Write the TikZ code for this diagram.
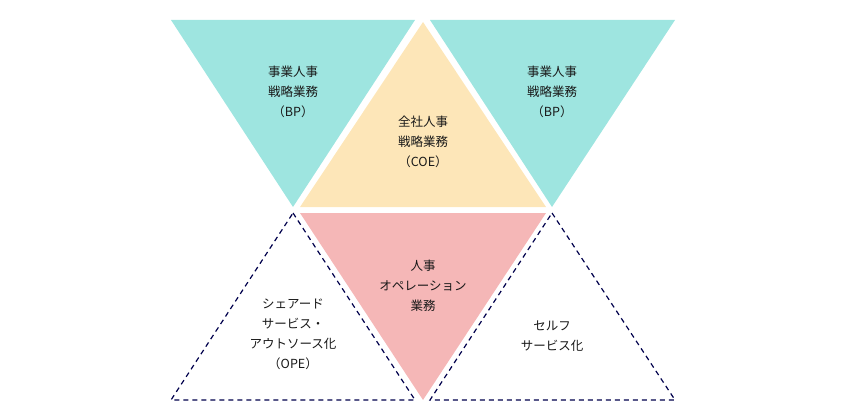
\documentclass[tikz,border=0pt]{standalone}
\usepackage{fontspec}
\setmainfont{Noto Sans CJK JP}
\begin{document}
\begin{tikzpicture}[x=1pt,y=-1pt,
  lbl/.style={align=center,font=\fontsize{12.5}{20}\selectfont,text=black!90},
  dsh/.style={draw=blue!30!black,dash pattern=on 5pt off 4pt,line width=1.2pt}]
\useasboundingbox (0,0) rectangle (846,420);
\definecolor{tealc}{HTML}{9EE5E0}
\definecolor{yelc}{HTML}{FDE6B8}
\definecolor{pinkc}{HTML}{F5B7B7}
\fill[tealc] (171,20) -- (415,20) -- (293,207) -- cycle;
\fill[tealc] (430,20) -- (675,20) -- (552,207) -- cycle;
\fill[yelc] (423,22) -- (546,207) -- (300,207) -- cycle;
\fill[pinkc] (300,213) -- (546,213) -- (423,400) -- cycle;
\draw[dsh] (293,213) -- (415,400) -- (171,400) -- cycle;
\draw[dsh] (552,213) -- (675,400) -- (430,400) -- cycle;
\node[lbl] (a) at (293,92) {事業人事\\戦略業務\\（BP）};
\node[lbl] (b) at (552,92) {事業人事\\戦略業務\\（BP）};
\node[lbl] (c) at (423,142) {全社人事\\戦略業務\\（COE）};
\node[lbl] (d) at (423,286) {人事\\オペレーション\\業務};
\node[lbl] (e) at (293,334) {シェアード\\サービス・\\アウトソース化\\（OPE）};
\node[lbl] (f) at (552,336) {セルフ\\サービス化};
\end{tikzpicture}
\end{document}
